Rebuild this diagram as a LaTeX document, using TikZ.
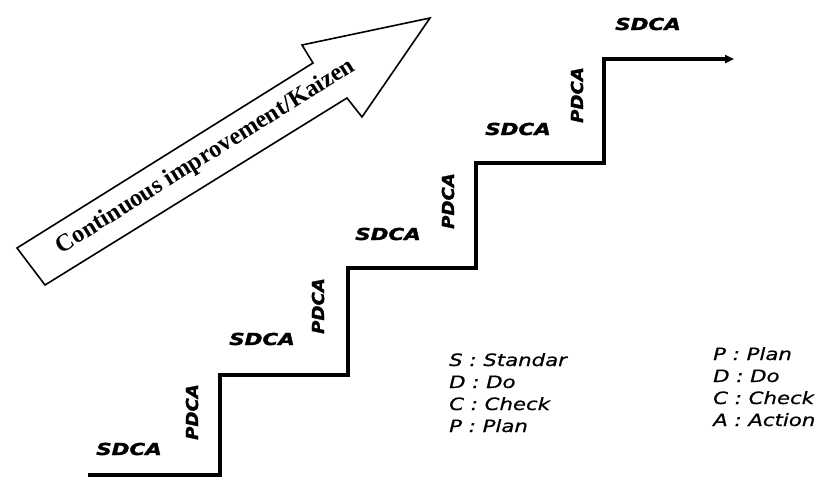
\documentclass[tikz,border=0pt]{standalone}
\usepackage{fontspec}
\setmainfont{Liberation Serif}
\newfontfamily\labfont[BoldItalicFeatures={FakeBold=1.6}]{DejaVu Sans}
\newfontfamily\legfont[ItalicFeatures={FakeBold=0.6}]{DejaVu Sans}
\usetikzlibrary{arrows.meta}
\tikzset{
  stair/.style={line width=4pt, line join=miter, -{Triangle[length=9pt,width=8pt]}},
  bigarrow/.style={draw, line width=1.6pt, line join=miter, fill=white},
  sdcalab/.style={inner sep=0pt, font=\labfont\bfseries\itshape\fontsize{16.5}{18}\selectfont},
  legline/.style={inner sep=0pt, anchor=base west, font=\legfont\itshape\fontsize{17}{20}\selectfont},
  kaizen/.style={inner sep=0pt, rotate=32, font=\bfseries\fontsize{24.5}{28}\selectfont}
}
\newcommand{\wideS}[1]{\scalebox{1.3}[1]{#1}}
\newcommand{\wideP}[1]{\scalebox{1.1}[1]{#1}}
\newcommand{\wideL}[1]{\scalebox{1.25}[1]{#1}}
\begin{document}
\begin{tikzpicture}[x=1pt,y=-1pt]
\useasboundingbox (0,0) rectangle (819,477);
% big arrow
\draw[bigarrow] (17,248) -- (313,63) -- (302,45) -- (430,18) -- (362,117) -- (347,98) -- (45,285) -- cycle;
\node[kaizen] (kz) at (206,157) {Continuous improvement/Kaizen};
% staircase
\coordinate (s0) at (88,475);
\coordinate (s1) at (220,475);
\coordinate (s2) at (220,375);
\coordinate (s3) at (348,375);
\coordinate (s4) at (348,268);
\coordinate (s5) at (476,268);
\coordinate (s6) at (476,163);
\coordinate (s7) at (604,163);
\coordinate (s8) at (604,59);
\coordinate (s9) at (734,59);
\draw[stair] (s0) -- (s1) -- (s2) -- (s3) -- (s4) -- (s5) -- (s6) -- (s7) -- (s8) -- (s9);
% labels
\node[sdcalab] (sd1) at (129,449) {\wideS{SDCA}};
\node[sdcalab] (sd2) at (262,339) {\wideS{SDCA}};
\node[sdcalab] (sd3) at (388,234) {\wideS{SDCA}};
\node[sdcalab] (sd4) at (518,129) {\wideS{SDCA}};
\node[sdcalab] (sd5) at (648,24) {\wideS{SDCA}};
\node[sdcalab, rotate=90] (pd1) at (192,412) {\wideP{PDCA}};
\node[sdcalab, rotate=90] (pd2) at (318,306) {\wideP{PDCA}};
\node[sdcalab, rotate=90] (pd3) at (448,201) {\wideP{PDCA}};
\node[sdcalab, rotate=90] (pd4) at (577,95) {\wideP{PDCA}};
% legends
\node[legline] (l1) at (449,366) {\wideL{S : Standar}};
\node[legline] (l2) at (449,388) {\wideL{D : Do}};
\node[legline] (l3) at (449,410) {\wideL{C : Check}};
\node[legline] (l4) at (449,432) {\wideL{P : Plan}};
\node[legline] (r1) at (713,360) {\wideL{P : Plan}};
\node[legline] (r2) at (713,382) {\wideL{D : Do}};
\node[legline] (r3) at (713,404) {\wideL{C : Check}};
\node[legline] (r4) at (713,426) {\wideL{A : Action}};
\end{tikzpicture}
\end{document}
